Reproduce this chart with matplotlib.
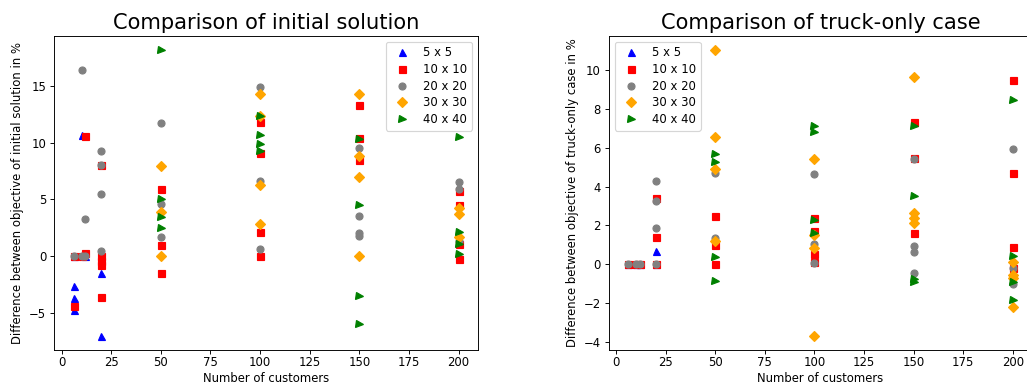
import matplotlib
matplotlib.use("Agg")
import matplotlib.pyplot as plt

labels = ["5 x 5", "10 x 10", "20 x 20", "30 x 30", "40 x 40"]
markers = ["^", "s", "o", "D", ">"]
colors = ["blue", "red", "gray", "orange", "green"]

# ---- Left: difference to initial solution ----
init_5_x = [6, 6, 6, 6, 10, 12, 20, 20]
init_5_y = [0, -2.6, -3.7, -4.7, 10.7, 0, -1.45, -7.0]
init_10_x = [6, 6, 10, 12, 12, 20, 20, 20, 20, 20, 50, 50, 50, 100, 100, 100, 100,
             150, 150, 150, 200, 200, 200, 200]
init_10_y = [0, -4.4, 0, 10.6, 0.25, 8.0, 0, -0.4, -0.8, -3.6, 5.9, 1.0, -1.5,
             11.8, 9.1, 2.1, 0, 13.35, 10.4, 8.5, 5.75, 4.5, 1.05, -0.25]
init_20_x = [6, 10, 10, 12, 12, 20, 20, 20, 20, 50, 50, 50, 100, 100, 100,
             150, 150, 150, 150, 200, 200, 200]
init_20_y = [0, 16.35, 0, 3.25, 0, 9.25, 8.0, 5.45, 0.5, 11.7, 4.55, 1.7,
             14.85, 6.6, 0.65, 9.55, 3.5, 2.05, 1.75, 6.5, 5.95, 1.35]
init_30_x = [50, 50, 50, 100, 100, 100, 100, 150, 150, 150, 150, 200, 200, 200]
init_30_y = [7.9, 3.9, 0, 14.25, 12.3, 6.3, 2.85, 14.25, 8.8, 6.95, 0.03,
             4.2, 3.7, 1.7]
init_40_x = [50, 50, 50, 50, 100, 100, 100, 100, 150, 150, 150, 150,
             200, 200, 200, 200]
init_40_y = [18.15, 5.0, 3.45, 2.45, 12.35, 10.7, 9.9, 9.3, 10.3, 4.53,
             -3.5, -5.95, 10.45, 2.15, 1.1, 0.15]

# ---- Right: difference to truck-only case ----
truck_5_x = [6, 10, 12, 20, 20]
truck_5_y = [0, 0, 0, 0.65, 0]
truck_10_x = [6, 10, 12, 20, 20, 20, 50, 50, 50, 100, 100, 100, 100,
              150, 150, 150, 200, 200, 200, 200]
truck_10_y = [0, 0, 0, 3.4, 1.4, 0, 2.5, 1.0, 0, 2.4, 1.7, 0.5, 0.1,
              7.35, 5.45, 1.6, 9.5, 4.7, 0.9, -0.2]
truck_20_x = [6, 10, 12, 20, 20, 20, 20, 50, 50, 100, 100, 100,
              150, 150, 150, 150, 200, 200, 200]
truck_20_y = [0, 0, 0, 4.3, 3.25, 1.85, 0, 4.7, 1.35, 4.65, 1.05, 0.05,
              5.4, 0.95, 0.6, -0.45, 5.95, -0.2, -1.05]
truck_30_x = [50, 50, 50, 50, 100, 100, 100, 100, 150, 150, 150, 150,
              200, 200, 200, 200]
truck_30_y = [11.05, 6.55, 4.9, 1.2, 5.4, 1.5, 0.85, -3.7, 9.65, 2.65, 2.4,
              2.1, 0.1, -0.55, -0.7, -2.2]
truck_40_x = [50, 50, 50, 50, 100, 100, 100, 100, 150, 150, 150, 150,
              200, 200, 200, 200]
truck_40_y = [5.7, 5.25, 0.35, -0.85, 7.1, 6.8, 2.25, 1.6, 7.15, 3.5, -0.75,
              -0.95, 8.45, 0.4, -0.95, -1.85]

init_series = [(init_5_x, init_5_y), (init_10_x, init_10_y), (init_20_x, init_20_y),
               (init_30_x, init_30_y), (init_40_x, init_40_y)]
truck_series = [(truck_5_x, truck_5_y), (truck_10_x, truck_10_y),
                (truck_20_x, truck_20_y), (truck_30_x, truck_30_y),
                (truck_40_x, truck_40_y)]

DPI = 84
fig = plt.figure(figsize=(1027 / DPI, 385 / DPI), dpi=DPI)
ax1 = fig.add_axes([0.0529, 0.0909, 0.4123, 0.8164])
ax2 = fig.add_axes([0.5927, 0.0909, 0.4123, 0.8164])

for ax, series in ((ax1, init_series), (ax2, truck_series)):
    for (x, y), lab, m, c in zip(series, labels, markers, colors):
        ax.plot(x, y, linestyle="none", marker=m, color=c, markersize=6, label=lab)
    ax.set_xticks([0, 25, 50, 75, 100, 125, 150, 175, 200])
    ax.tick_params(axis="x", pad=1.5)
    ax.set_xlabel("Number of customers", labelpad=3)

ax1.set_title("Comparison of initial solution", fontsize=18)
ax1.set_ylabel("Difference between objective of initial solution in %")
ax1.legend(loc="upper right", labelspacing=0.32)

ax2.set_title("Comparison of truck-only case", fontsize=18)
ax2.set_ylabel("Difference between objective of truck-only case in %")
ax2.legend(loc="upper left", labelspacing=0.32)

fig.savefig("out.png", dpi=DPI)
